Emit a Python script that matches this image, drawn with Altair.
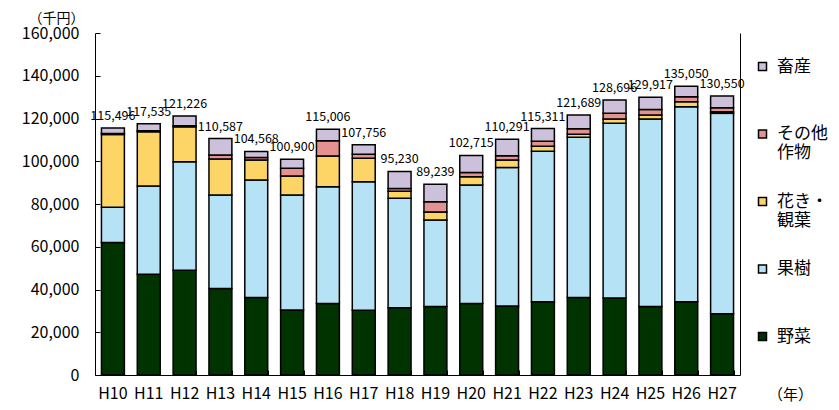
import altair as alt
import pandas as pd

FONT = "Noto Sans CJK JP"

years = ["H10", "H11", "H12", "H13", "H14", "H15", "H16", "H17", "H18",
         "H19", "H20", "H21", "H22", "H23", "H24", "H25", "H26", "H27"]

# legend order (top to bottom)
categories = ["畜産", "その他作物", "花き・観葉", "果樹", "野菜"]
colors = ["#ccc0da", "#e39191", "#fdd466", "#b6e2f5", "#003300"]

yasai = [62000, 47100, 49000, 40500, 36200, 30400, 33400, 30300, 31500,
         32000, 33400, 32300, 34300, 36300, 36000, 32100, 34300, 28700]
kaju = [16500, 41300, 50800, 43700, 55000, 53800, 54700, 60100, 51200,
        40500, 55500, 64800, 70400, 74900, 81800, 87700, 91200, 93700]
kaki = [34000, 25400, 16300, 16900, 9400, 8900, 14400, 11000, 3300,
        3800, 3900, 3500, 2300, 1400, 2000, 1800, 2300, 700]
sonota = [500, 500, 500, 1800, 1200, 3600, 7100, 1900, 1200,
          4800, 1900, 2000, 2300, 2600, 2600, 2600, 2400, 1900]
chikusan = [2500, 3235, 4626, 7687, 2768, 4200, 5406, 4456, 8030,
            8139, 8015, 7691, 6011, 6489, 6296, 5717, 4850, 5550]
totals = [115496, 117535, 121226, 110587, 104568, 100900, 115006, 107756, 95230,
          89239, 102715, 110291, 115311, 121689, 128696, 129917, 135050, 130550]

series = [("野菜", yasai), ("果樹", kaju), ("花き・観葉", kaki),
          ("その他作物", sonota), ("畜産", chikusan)]

rows = []
for k, (name, vals) in enumerate(series):
    for yr, v in zip(years, vals):
        rows.append({"year": yr, "category": name, "value": v, "order": k})
df = pd.DataFrame(rows)
tdf = pd.DataFrame({"year": years, "total": totals})

W, H = 645, 342

xscale = alt.Scale(paddingInner=0.36, paddingOuter=0.18)
yscale = alt.Scale(domain=[0, 160000])

bars = alt.Chart(df).mark_bar(stroke="black", strokeWidth=1.5).encode(
    x=alt.X("year:N", sort=years, scale=xscale,
            axis=alt.Axis(title="（年）", titleX=695, titleY=19, titleAngle=0,
                          titleAlign="center", titleBaseline="middle",
                          titleFontSize=15, titleFontWeight="normal",
                          labelFontSize=16, labelPadding=10, labelAngle=0,
                          ticks=False, domainColor="black", grid=False)),
    y=alt.Y("value:Q", stack="zero", scale=yscale,
            axis=alt.Axis(values=list(range(0, 160001, 20000)), format=",d",
                          ticks=False, labelPadding=16, labelFontSize=16,
                          grid=False, title="（千円）", titleAngle=0,
                          titleX=-39, titleY=-15, titleAlign="center",
                          titleBaseline="middle", titleFontSize=14,
                          titleFontWeight="normal", domainColor="black")),
    color=alt.Color("category:N", scale=alt.Scale(domain=categories, range=colors),
                    legend=alt.Legend(orient="none", legendX=659, legendY=25,
                                      title=None, padding=0, rowPadding=30.5,
                                      gridAlign="all",
                                      symbolType="square", symbolSize=64,
                                      symbolStrokeColor="black", symbolStrokeWidth=1.5,
                                      labelFontSize=17, labelOffset=6, labelLimit=200,
                                      labelExpr="datum.label == 'その他作物' ? ['その他', '作物'] : datum.label == '花き・観葉' ? ['花き・', '観葉'] : datum.label")),
    order=alt.Order("order:Q", sort="ascending"),
)

labels = alt.Chart(tdf).mark_text(dy=-8, baseline="alphabetic", fontSize=12.5,
                                  color="black").encode(
    x=alt.X("year:N", sort=years, scale=xscale,
            axis=alt.Axis(orient="top", offset=-H, labels=False, domain=False,
                          ticks=True, tickSize=5, tickBand="extent",
                          tickColor="black", title=None, grid=False)),
    y=alt.Y("total:Q", scale=yscale,
            axis=alt.Axis(orient="right", labels=False, ticks=False, title=None,
                          grid=False, domainColor="black")),
    text=alt.Text("total:Q", format=",d"),
)

yticks = alt.Chart(tdf).mark_text(opacity=0).encode(
    x=alt.X("year:N", sort=years, scale=xscale, axis=None),
    y=alt.Y("total:Q", scale=yscale,
            axis=alt.Axis(orient="right", offset=-W, labels=False, domain=False,
                          values=list(range(0, 160001, 20000)),
                          ticks=True, tickSize=5, tickColor="black",
                          title=None, grid=False)),
    text=alt.Text("total:Q", format=",d"),
)

chart = alt.layer(bars, labels, yticks).resolve_axis(
    x="independent", y="independent"
).properties(
    width=W, height=H,
    autosize=alt.AutoSizeParams(type="none"),
    padding={"left": 87, "top": 25, "right": 91, "bottom": 27},
).configure(font=FONT).configure_view(stroke=None).configure_axis(
    labelColor="black", titleColor="black", labelFont=FONT, titleFont=FONT
).configure_legend(labelFont=FONT, labelColor="black")

chart.save("out.html", embed_options={"renderer": "svg", "actions": False})
